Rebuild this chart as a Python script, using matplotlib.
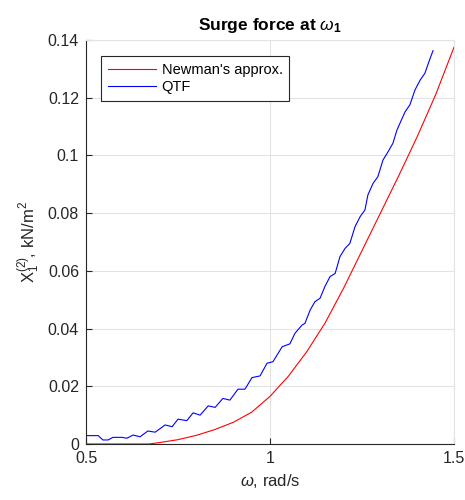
import numpy as np
import matplotlib
matplotlib.use("Agg")
import matplotlib.pyplot as plt

# Newman's approximation of the surge drift force
w_newman = [0.50, 0.60, 0.671, 0.70, 0.75, 0.80, 0.85, 0.90, 0.95, 1.00,
            1.05, 1.10, 1.15, 1.20, 1.25, 1.30, 1.35, 1.40, 1.45, 1.50]
f_newman = [0.0, 0.0, 0.0, 0.0005, 0.0015, 0.0030, 0.0050, 0.0075, 0.0110, 0.0165,
            0.0235, 0.0320, 0.0420, 0.0540, 0.0670, 0.0800, 0.0930, 0.1065, 0.1210, 0.1375]

# full QTF result
w_qtf = [0.500, 0.533, 0.546, 0.560, 0.573, 0.598, 0.611, 0.628, 0.647, 0.668,
         0.688, 0.715, 0.734, 0.750, 0.774, 0.791, 0.810, 0.832, 0.851, 0.872,
         0.891, 0.913, 0.932, 0.951, 0.973, 0.992, 1.008, 1.033, 1.054, 1.068,
         1.087, 1.095, 1.109, 1.122, 1.136, 1.149, 1.163, 1.177, 1.190, 1.204,
         1.217, 1.231, 1.245, 1.258, 1.266, 1.280, 1.293, 1.307, 1.321, 1.334,
         1.345, 1.353, 1.367, 1.380, 1.394, 1.408, 1.421, 1.435, 1.443]
f_qtf = [0.0029, 0.0029, 0.0014, 0.0014, 0.0023, 0.0023, 0.0020, 0.0031, 0.0025, 0.0045,
         0.0041, 0.0066, 0.0060, 0.0086, 0.0081, 0.0108, 0.0100, 0.0132, 0.0127, 0.0158,
         0.0152, 0.0190, 0.0190, 0.0230, 0.0236, 0.0280, 0.0285, 0.0337, 0.0347, 0.0384,
         0.0412, 0.0418, 0.0464, 0.0493, 0.0505, 0.0545, 0.0580, 0.0591, 0.0649, 0.0678,
         0.0695, 0.0753, 0.0788, 0.0811, 0.0863, 0.0903, 0.0926, 0.0984, 0.1013, 0.1042,
         0.1088, 0.1111, 0.1151, 0.1175, 0.1227, 0.1261, 0.1285, 0.1336, 0.1363]

xticks = [0.5, 1.0, 1.5]
xlabels = ["0.5", "1", "1.5"]
yticks = [0, 0.02, 0.04, 0.06, 0.08, 0.10, 0.12, 0.14]
ylabels = ["0", "0.02", "0.04", "0.06", "0.08", "0.1", "0.12", "0.14"]

plt.rcParams["font.family"] = ["Liberation Sans", "DejaVu Sans"]
plt.rcParams["mathtext.fontset"] = "custom"
plt.rcParams["mathtext.rm"] = "Liberation Sans"
plt.rcParams["mathtext.it"] = "Liberation Sans:italic"
plt.rcParams["mathtext.bf"] = "Liberation Sans:bold"

dark = "#262626"
gridc = "#e3e3e3"

fig = plt.figure(figsize=(4.65, 5.0), dpi=100)
ax = fig.add_axes([86 / 465, 1 - 444 / 500, 368 / 465, 404 / 500])

ax.plot(w_newman, f_newman, color=(1, 0, 0), lw=0.8, label="Newman's approx.")
ax.plot(w_qtf, f_qtf, color=(0, 0, 1), lw=0.8, label="QTF")

ax.set_xlim(0.5, 1.5)
ax.set_ylim(0, 0.14)
ax.set_xticks(xticks)
ax.set_xticklabels(xlabels)
ax.set_yticks(yticks)
ax.set_yticklabels(ylabels)
ax.grid(True, color=gridc, lw=0.8)
ax.set_axisbelow(True)

ax.tick_params(direction="in", length=4, width=0.8, colors=dark, labelsize=11.5, pad=5)
for side in ["left", "bottom"]:
    ax.spines[side].set_color(dark)
    ax.spines[side].set_linewidth(0.8)
for side in ["top", "right"]:
    ax.spines[side].set_color(gridc)
    ax.spines[side].set_linewidth(0.8)

ax.set_title(r"Surge force at $\omega_\mathbf{1}$", fontsize=12.5, fontweight="bold", pad=7)
ax.set_xlabel(r"$\omega$, rad/s", fontsize=12, color=dark)
ax.set_ylabel(r"X$_1^{(2)}$, kN/m$^2$", fontsize=12, color=dark)

leg = ax.legend(loc="upper left", bbox_to_anchor=(0.041, 0.96), borderaxespad=0,
                fontsize=10.5, handlelength=3.3, fancybox=False, framealpha=1,
                edgecolor=dark, borderpad=0.45, labelspacing=0.25, handletextpad=0.4)
leg.get_frame().set_linewidth(0.8)

fig.savefig("out.png", dpi=100)
